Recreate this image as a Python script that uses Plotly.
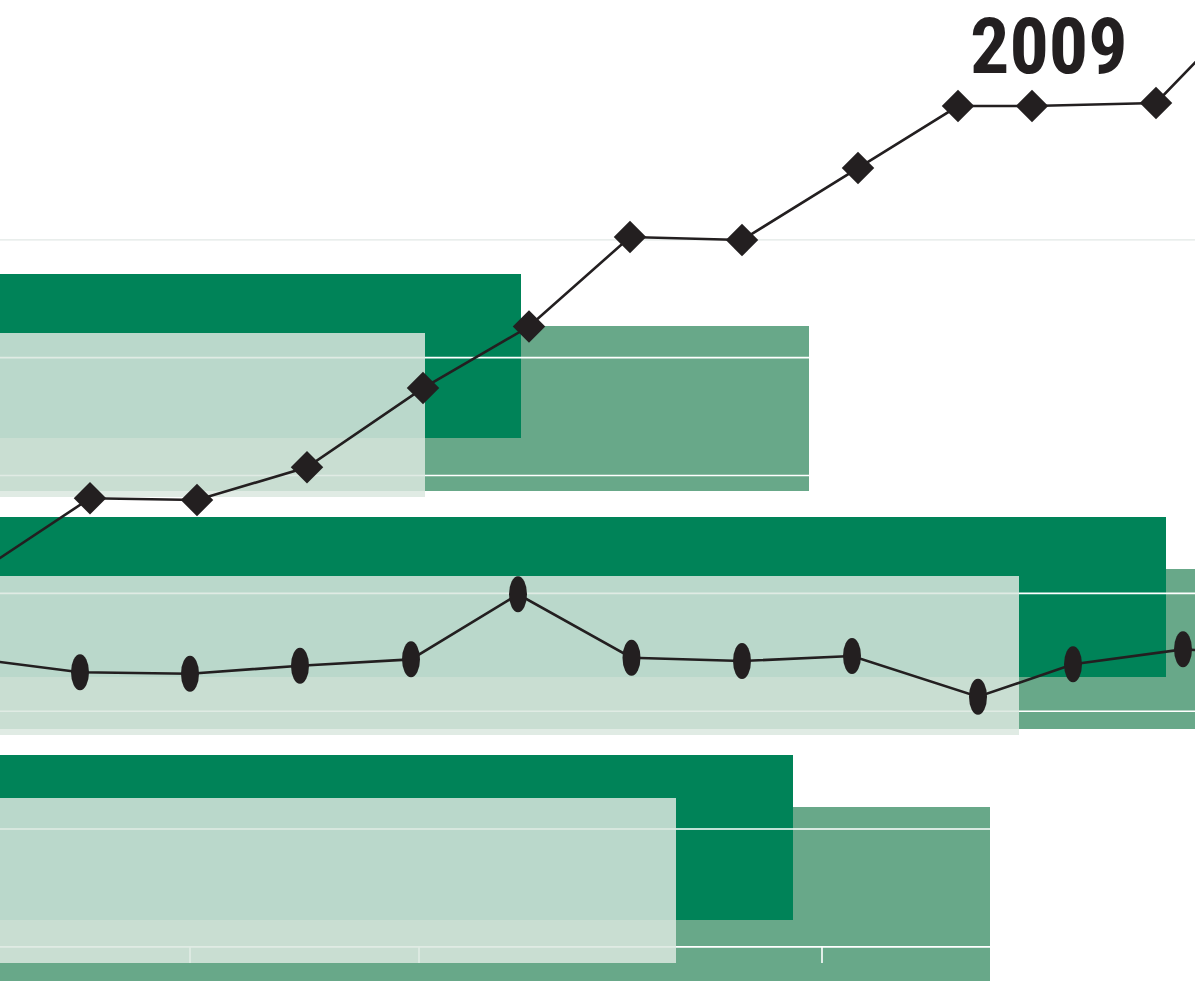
import plotly.graph_objects as go

# ---------------- data ----------------
grid_values = [0, 1, 2, 3, 4, 5]
top_rule_value = 6
tick_x = [1.90, 4.19, 8.22]

# three groups of overlapping horizontal bars (length, lower / upper edge)
dark_len = [5.21, 11.66, 7.93]
dark_lo = [4.318, 2.290, 0.228]
dark_hi = [5.710, 3.648, 1.628]

mid_len = [8.09, 12.40, 9.90]
mid_lo = [3.868, 1.849, -0.323]
mid_hi = [5.269, 3.207, 1.187]

light_len = [4.25, 10.19, 6.76]
light_lo = [3.818, 1.798, -0.137]
light_hi = [5.209, 3.147, 1.263]

# diamond series
diamond_x = [-0.17, 0.90, 1.97, 3.07, 4.23, 5.29, 6.30, 7.42, 8.58, 9.58, 10.32, 11.56, 12.65]
diamond_y = [3.204, 3.807, 3.792, 4.070, 4.742, 5.264, 6.024, 5.998, 6.609, 7.135, 7.135, 7.161, 8.120]

# oval series
oval_x = [-0.30, 0.80, 1.90, 3.00, 4.11, 5.18, 6.315, 7.42, 8.52, 9.78, 10.73, 11.83, 12.90]
oval_y = [2.451, 2.330, 2.318, 2.386, 2.440, 2.992, 2.454, 2.426, 2.468, 2.123, 2.398, 2.525, 2.477]

label_text = "2009"
label_x = 10.49
label_y = 7.64

# ---------------- styles ----------------
DARK = "#008358"
MID = "#68A889"
LIGHT = "rgba(219,232,223,0.85)"
INK = "#231F20"
X_RANGE = [0, 11.95]
Y_RANGE = [-0.2893, 8.035]
TICK_LEN = 0.136

fig = go.Figure()


def hbar(lengths, lo, hi, color):
    return go.Bar(
        orientation="h",
        x=lengths,
        y=[(a + b) / 2 for a, b in zip(lo, hi)],
        width=[b - a for a, b in zip(lo, hi)],
        base=0,
        marker=dict(color=color, line=dict(width=0)),
        hoverinfo="skip",
    )


fig.add_trace(hbar(mid_len, mid_lo, mid_hi, MID))
fig.add_trace(hbar(dark_len, dark_lo, dark_hi, DARK))

# white grid rules and ticks (above the bars, below the light overlay)
gx, gy = [], []
for v in grid_values:
    gx += [-1, 14, None]
    gy += [v, v, None]
for t in tick_x:
    gx += [t, t, None]
    gy += [0, -TICK_LEN, None]
fig.add_trace(go.Scatter(x=gx, y=gy, mode="lines",
                         line=dict(color="white", width=1.6), hoverinfo="skip"))
fig.add_trace(go.Scatter(x=[-1, 14], y=[top_rule_value, top_rule_value], mode="lines",
                         line=dict(color="#E2E8E6", width=1.3), hoverinfo="skip"))

# light translucent overlay bars
lx, ly = [], []
for L, a, b in zip(light_len, light_lo, light_hi):
    lx += [0, L, L, 0, 0, None]
    ly += [a, a, b, b, a, None]
fig.add_trace(go.Scatter(x=lx, y=ly, mode="none", fill="toself",
                         fillcolor=LIGHT, hoverinfo="skip"))

# lines
fig.add_trace(go.Scatter(x=oval_x, y=oval_y, mode="lines",
                         line=dict(color=INK, width=2.6), hoverinfo="skip"))
fig.add_trace(go.Scatter(x=diamond_x, y=diamond_y, mode="lines+markers",
                         line=dict(color=INK, width=2.6),
                         marker=dict(symbol="diamond", size=25, color=INK,
                                     line=dict(width=0)),
                         hoverinfo="skip"))

# oval markers
for xv, yv in zip(oval_x, oval_y):
    fig.add_shape(type="circle", xref="x", yref="y",
                  xsizemode="pixel", ysizemode="pixel",
                  xanchor=xv, yanchor=yv, x0=-9, x1=9, y0=-18, y1=18,
                  fillcolor=INK, line=dict(width=0), layer="above")

fig.add_annotation(x=label_x, y=label_y, xref="x", yref="y", text=label_text,
                   showarrow=False, xanchor="center", yanchor="middle",
                   font=dict(family="Roboto Condensed, Liberation Sans Narrow, Arial Narrow, Liberation Sans, Arial, sans-serif",
                             size=78, color=INK, weight="bold"))

fig.update_layout(
    width=1195, height=981,
    margin=dict(l=0, r=0, t=0, b=0),
    paper_bgcolor="white", plot_bgcolor="white",
    showlegend=False, barmode="overlay",
    xaxis=dict(range=X_RANGE, visible=False, fixedrange=True),
    yaxis=dict(range=Y_RANGE, visible=False, fixedrange=True),
)

fig.write_html("out.html",
               config={"displayModeBar": False, "staticPlot": True},
               post_script="document.body.style.margin='0';document.body.style.overflow='hidden';")
